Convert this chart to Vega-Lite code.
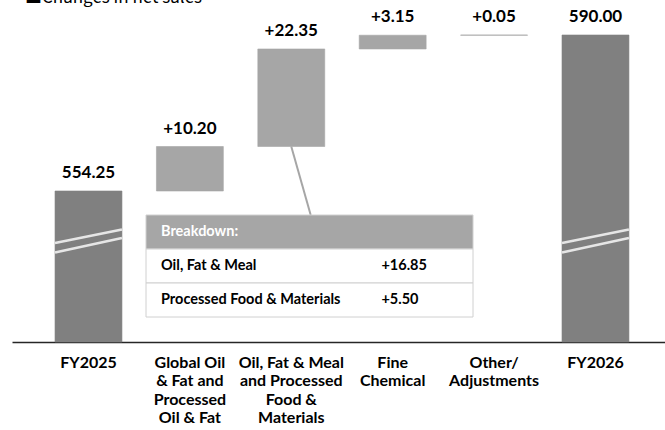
{
  "$schema": "https://vega.github.io/schema/vega-lite/v6.json",
  "width": 653,
  "height": 332,
  "padding": {"left": 12, "top": 10, "right": 0, "bottom": 88},
  "autosize": {"type": "none"},
  "background": "white",
  "config": {"view": {"stroke": null}, "font": "Lato"},
  "title": {"text": "■Changes in net sales", "anchor": "start", "fontSize": 17, "font": "Noto Sans CJK JP", "fontWeight": "normal", "offset": 1, "dx": 13, "color": "black"},
  "datasets": {
    "bars": [
      {"cat": "FY2025", "start": 0, "end": 554.25, "kind": "total", "label": "554.25"},
      {"cat": "Global Oil|& Fat and|Processed|Oil & Fat", "start": 554.25, "end": 564.45, "kind": "change", "label": "+10.20"},
      {"cat": "Oil, Fat & Meal|and Processed|Food &|Materials", "start": 564.45, "end": 586.80, "kind": "change", "label": "+22.35"},
      {"cat": "Fine|Chemical", "start": 586.80, "end": 589.95, "kind": "change", "label": "+3.15"},
      {"cat": "Other/|Adjustments", "start": 589.95, "end": 590.00, "kind": "change", "label": "+0.05"},
      {"cat": "FY2026", "start": 0, "end": 590.00, "kind": "total", "label": "590.00"}
    ],
    "breakdown": [
      {"row": "Breakdown:", "value": "", "kind": "header"},
      {"row": "Oil, Fat & Meal", "value": "+16.85", "kind": "item"},
      {"row": "Processed Food & Materials", "value": "+5.50", "kind": "item"}
    ]
  },
  "layer": [
    {
      "data": {"name": "bars"},
      "encoding": {
        "x": {"field": "cat", "type": "nominal", "sort": null,
          "scale": {"paddingInner": 0.34, "paddingOuter": 0.39, "align": 0.544},
          "axis": {"title": null, "labelAngle": 0, "labelExpr": "split(datum.value, '|')", "labelFont": "Lato", "labelFontWeight": "bold", "labelFontSize": 16, "labelColor": "black", "labelLineHeight": 18.5, "labelPadding": 12, "ticks": false, "domainColor": "#262626", "domainWidth": 1.5, "grid": false, "labelLimit": 200}
        }
      },
      "layer": [
        {
          "mark": {"type": "bar", "strokeWidth": 0.6},
          "encoding": {
            "y": {"field": "end", "type": "quantitative", "scale": {"domain": [519.65, 595.73], "clamp": true, "zero": false, "nice": false}, "axis": null},
            "y2": {"field": "start"},
            "fill": {"field": "kind", "type": "nominal", "scale": {"domain": ["total", "change"], "range": ["#808080", "#a6a6a6"]}, "legend": null},
            "stroke": {"field": "kind", "type": "nominal", "scale": {"domain": ["total", "change"], "range": ["#808080", "#a6a6a6"]}, "legend": null}
          }
        },
        {
          "mark": {"type": "text", "baseline": "bottom", "dy": -9, "fontSize": 17, "fontWeight": "bold", "font": "Lato", "color": "black"},
          "encoding": {
            "y": {"field": "end", "type": "quantitative"},
            "text": {"field": "label"}
          }
        },
        {
          "transform": [{"filter": "datum.kind == 'total'"}],
          "mark": {"type": "rule", "color": "#e6e6e6", "strokeWidth": 2.5},
          "encoding": {
            "x": {"field": "cat", "type": "nominal", "sort": null, "bandPosition": 0},
            "x2": {"field": "cat", "bandPosition": 1},
            "y": {"datum": 542.34, "type": "quantitative"},
            "y2": {"datum": 545.43}
          }
        },
        {
          "transform": [{"filter": "datum.kind == 'total'"}],
          "mark": {"type": "rule", "color": "#e6e6e6", "strokeWidth": 2.5},
          "encoding": {
            "x": {"field": "cat", "type": "nominal", "sort": null, "bandPosition": 0},
            "x2": {"field": "cat", "bandPosition": 1},
            "y": {"datum": 540.16, "type": "quantitative"},
            "y2": {"datum": 543.48}
          }
        },
        {
          "transform": [{"filter": "datum.label == '+22.35'"}],
          "mark": {"type": "rule", "color": "#a6a6a6", "strokeWidth": 2},
          "encoding": {
            "x": {"field": "cat", "type": "nominal", "sort": null, "bandPosition": 0.5},
            "x2": {"field": "cat", "bandPosition": 0.79},
            "y": {"field": "start", "type": "quantitative"},
            "y2": {"datum": 548.75}
          }
        }
      ]
    },
    {
      "data": {"name": "breakdown"},
      "encoding": {
        "y": {"field": "row", "type": "ordinal", "sort": null, "scale": {"type": "band", "range": [205, 307], "paddingInner": 0, "paddingOuter": 0}, "axis": null}
      },
      "layer": [
        {
          "mark": {"type": "rect", "stroke": "#d0d0d0", "strokeWidth": 1},
          "encoding": {
            "x": {"datum": 0, "type": "quantitative", "scale": {"domain": [0, 1], "range": [134, 461]}, "axis": null},
            "x2": {"datum": 1},
            "fill": {"field": "kind", "type": "nominal", "scale": {"domain": ["header", "item"], "range": ["#a6a6a6", "#ffffff"]}, "legend": null}
          }
        },
        {
          "mark": {"type": "text", "align": "left", "dx": 15, "fontSize": 14.5, "fontWeight": "bold", "font": "Lato"},
          "encoding": {
            "x": {"datum": 0, "type": "quantitative"},
            "text": {"field": "row"},
            "color": {"field": "kind", "type": "nominal", "scale": {"domain": ["header", "item"], "range": ["#ffffff", "#000000"]}, "legend": null}
          }
        },
        {
          "mark": {"type": "text", "align": "left", "fontSize": 14.5, "fontWeight": "bold", "font": "Lato", "color": "black"},
          "encoding": {
            "x": {"datum": 0.72, "type": "quantitative"},
            "text": {"field": "value"}
          }
        }
      ]
    }
  ],
  "resolve": {"scale": {"x": "independent", "y": "independent", "fill": "independent", "color": "independent"}, "axis": {"x": "independent", "y": "independent"}}
}
